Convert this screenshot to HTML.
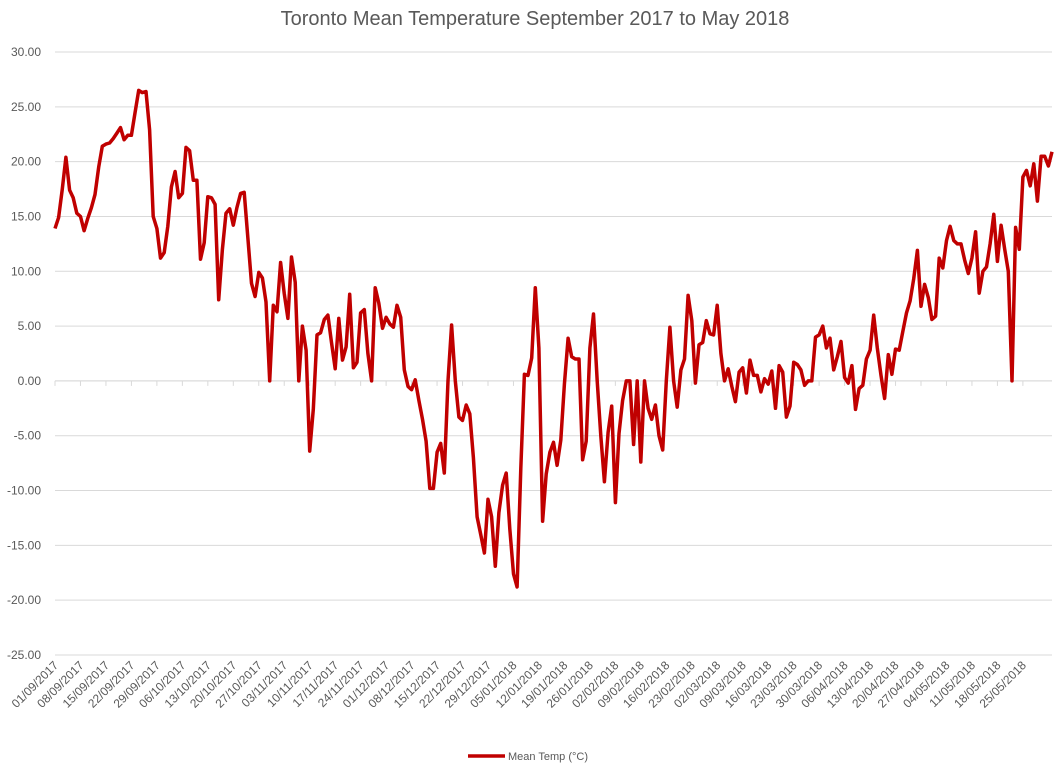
<!DOCTYPE html>
<html><head><meta charset="utf-8"><style>
body{margin:0;background:#fff;}
svg text{font-family:"Liberation Sans",sans-serif;fill:#595959;}
</style></head><body>
<svg id="chart" width="1063" height="768" xmlns="http://www.w3.org/2000/svg">
<text x="535" y="25" text-anchor="middle" font-size="20">Toronto Mean Temperature September 2017 to May 2018</text>
<g id="grid"></g><g id="xaxis"></g><g id="series"></g>
<g>
<line x1="468" y1="756" x2="505" y2="756" stroke="#c00000" stroke-width="3.5"/>
<text x="508" y="760" font-size="11">Mean Temp (°C)</text>
</g>
</svg>
<script>
const temps=[13.9,14.9,17.5,20.4,17.4,16.7,15.3,15.0,13.7,14.8,15.8,17.0,19.5,21.4,21.6,21.7,22.1,22.6,23.1,22.0,22.4,22.4,24.5,26.5,26.3,26.4,22.9,15.0,13.9,11.2,11.7,14.1,17.7,19.1,16.7,17.1,21.3,21.0,18.3,18.3,11.1,12.6,16.8,16.7,16.1,7.4,12,15.3,15.7,14.2,15.8,17.1,17.2,13,8.9,7.7,9.9,9.4,7.2,0,6.9,6.3,10.8,8,5.7,11.3,9.0,0,5.0,2.8,-6.4,-2.6,4.2,4.4,5.6,6.0,3.5,1.1,5.7,1.9,3.1,7.9,1.2,1.7,6.2,6.5,2.5,0,8.5,7.1,4.8,5.8,5.2,4.9,6.9,5.8,1.0,-0.5,-0.8,0.1,-1.8,-3.5,-5.5,-9.8,-9.8,-6.5,-5.7,-8.4,0,5.1,0,-3.3,-3.6,-2.2,-3.0,-7,-12.4,-14,-15.7,-10.8,-12.4,-16.9,-12,-9.5,-8.4,-13.5,-17.6,-18.8,-8,0.6,0.5,2.1,8.5,3,-12.8,-8.5,-6.5,-5.6,-7.7,-5.4,-0.3,3.9,2.2,2.0,2.0,-7.2,-5.5,3,6.1,0,-5,-9.2,-4.7,-2.3,-11.1,-4.8,-1.8,0,0,-5.8,0,-7.4,0,-2.5,-3.5,-2.2,-5,-6.3,0,4.9,0,-2.4,1,2,7.8,5.5,-0.2,3.3,3.5,5.5,4.3,4.2,6.9,2.5,0,1.1,-0.5,-1.9,0.8,1.2,-1.1,1.9,0.5,0.5,-1.0,0.2,-0.3,0.9,-2.5,1.4,0.8,-3.3,-2.3,1.7,1.5,1.0,-0.4,0,0,4,4.2,5,3,3.9,1,2.2,3.6,0.3,-0.2,1.4,-2.6,-0.7,-0.4,2,2.8,6,3,0.5,-1.6,2.4,0.6,2.9,2.8,4.5,6.2,7.3,9.3,11.9,6.8,8.8,7.6,5.6,5.9,11.2,10.3,12.8,14.1,12.8,12.5,12.5,11,9.8,11.2,13.6,8,10,10.4,12.5,15.2,10.9,14.2,12,10,0,14,12,18.6,19.2,17.8,19.8,16.4,20.5,20.5,19.6,20.9];
const yTicks=[30,25,20,15,10,5,0,-5,-10,-15,-20,-25];
const xLabels=["01/09/2017","08/09/2017","15/09/2017","22/09/2017","29/09/2017","06/10/2017","13/10/2017","20/10/2017","27/10/2017","03/11/2017","10/11/2017","17/11/2017","24/11/2017","01/12/2017","08/12/2017","15/12/2017","22/12/2017","29/12/2017","05/01/2018","12/01/2018","19/01/2018","26/01/2018","02/02/2018","09/02/2018","16/02/2018","23/02/2018","02/03/2018","09/03/2018","16/03/2018","23/03/2018","30/03/2018","06/04/2018","13/04/2018","20/04/2018","27/04/2018","04/05/2018","11/05/2018","18/05/2018","25/05/2018"];
const NS='http://www.w3.org/2000/svg';
const X0=55,X1=1052,Y30=52,Ym25=655;
function y(v){return Y30+(30-v)*(Ym25-Y30)/55;}
function x(i){return X0+i*(X1-X0)/(temps.length-1);}
function mk(t,a,p){const e=document.createElementNS(NS,t);for(const k in a)e.setAttribute(k,a[k]);p.appendChild(e);return e;}
const grid=document.getElementById('grid');
yTicks.forEach(v=>{
 const l=mk('line',{x1:X0,x2:X1,y1:y(v),y2:y(v),stroke:'#d9d9d9','stroke-width':1},grid);
 
 
 const t=mk('text',{x:41,y:y(v)+4,'text-anchor':'end','font-size':12},grid);
 t.textContent=v.toFixed(2);
 
 
});
const xa=document.getElementById('xaxis');
const ax=mk('line',{x1:X0,x2:X1,y1:y(0),y2:y(0),stroke:'#d9d9d9','stroke-width':1},xa);


xLabels.forEach((s,k)=>{
 const xx=x(k*7);
 const tk=mk('line',{x1:xx,x2:xx,y1:y(0),y2:y(0)+5,stroke:'#d9d9d9'},xa);
 
 
 const t=mk('text',{x:xx+4,y:666,'text-anchor':'end','font-size':12,transform:`rotate(-45 ${xx+4} 666)`},xa);
 t.textContent=s;
 
 
});
const d=temps.map((v,i)=>(i?'L':'M')+x(i).toFixed(1)+','+y(v).toFixed(1)).join('');
const p=mk('path',{d:d,fill:'none',stroke:'#c00000','stroke-width':3.5,'stroke-linejoin':'round'},document.getElementById('series'));


</script>
</body></html>
